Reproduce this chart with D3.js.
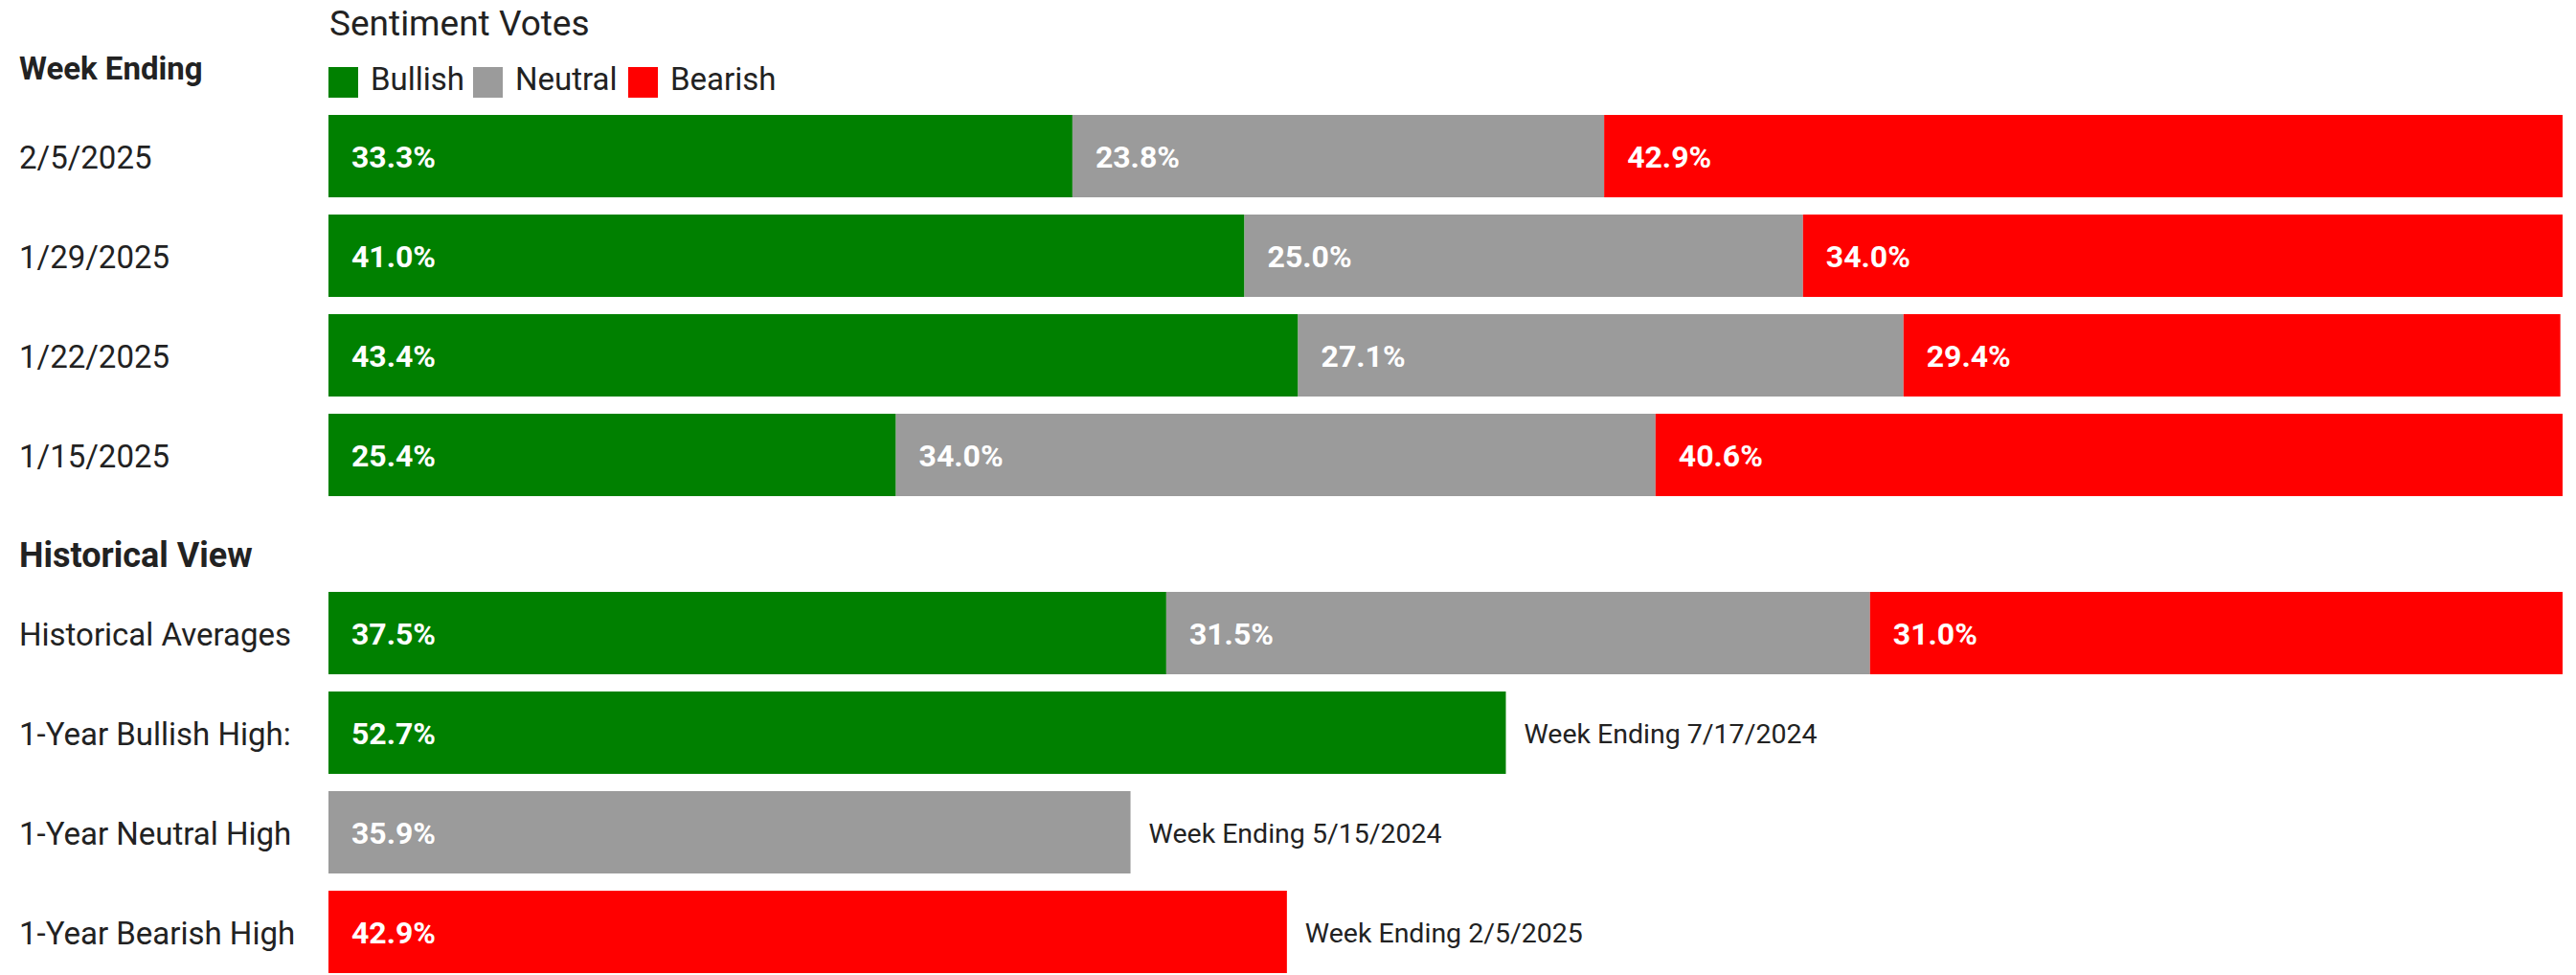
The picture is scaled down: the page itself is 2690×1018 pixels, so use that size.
<!DOCTYPE html>
<html>
<head>
<meta charset="utf-8">
<title>Sentiment Votes</title>
<script src="https://cdn.jsdelivr.net/npm/d3@7"></script>
<style>
  body { margin: 0; background: #fff; }
  svg text { font-family: Roboto, 'Liberation Sans', sans-serif; fill: #222; }
</style>
</head>
<body>
<svg id="chart" width="2690" height="1018"></svg>
<script>
// weekly sentiment, percent
var weeks    = ['2/5/2025', '1/29/2025', '1/22/2025', '1/15/2025'];
var bullish  = [33.3, 41.0, 43.4, 25.4];
var neutral  = [23.8, 25.0, 27.1, 34.0];
var bearish  = [42.9, 34.0, 29.4, 40.6];

var seriesNames  = ['Bullish', 'Neutral', 'Bearish'];
var seriesColors = ['#008000', '#9b9b9b', '#ff0000'];

// historical view
var histAvgLabel = 'Historical Averages';
var histAvg      = [37.5, 31.5, 31.0];
var highLabels   = ['1-Year Bullish High:', '1-Year Neutral High', '1-Year Bearish High'];
var highValues   = [52.7, 35.9, 42.9];
var highWeeks    = ['Week Ending 7/17/2024', 'Week Ending 5/15/2024', 'Week Ending 2/5/2025'];

var svg = d3.select('#chart');
var color = d3.scaleOrdinal().domain(seriesNames).range(seriesColors);
var x = d3.scaleLinear().domain([0, 100]).range([343, 2676]);

var yTop = d3.scaleBand().domain(weeks).range([120, 518]).paddingInner(0.173);
var histRows = [histAvgLabel].concat(highLabels);
var yHist = d3.scaleBand().domain(histRows).range([618, 1016]).paddingInner(0.173);

function fmt(v) { return v.toFixed(1) + '%'; }

// stack helper: [{key, x0, x1}]
function segments(vals) {
    var acc = 0;
    return vals.map(function(v, i) {
        var s = {key: seriesNames[i], v: v, x0: acc, x1: acc + v};
        acc += v;
        return s;
    });
}

// headings
svg.append('text').attr('x', 344).attr('y', 37)
    .style('font-size', '37px').text('Sentiment Votes');
svg.append('text').attr('x', 20).attr('y', 83)
    .style('font-size', '33px').style('font-weight', 'bold').text('Week Ending');
svg.append('text').attr('x', 20).attr('y', 592)
    .style('font-size', '36px').style('font-weight', 'bold').text('Historical View');

// legend
var legX = [343, 494, 656];
var leg = svg.selectAll('g.leg').data(seriesNames).enter().append('g')
    .attr('class', 'leg')
    .attr('transform', function(d, i) { return 'translate(' + legX[i] + ',70)'; });
leg.append('rect').attr('width', 31).attr('height', 32).attr('fill', function(d) { return color(d); });
leg.append('text').attr('x', 44).attr('y', 24).style('font-size', '33px').text(function(d) { return d; });

function drawStacked(g, y, label, vals) {
    var row = g.append('g');
    row.append('text').attr('x', 20).attr('y', y.bandwidth() / 2).attr('dy', '0.38em')
        .style('font-size', '33px').text(label);
    var seg = row.selectAll('g.seg').data(segments(vals)).enter().append('g').attr('class', 'seg');
    seg.append('rect')
        .attr('x', function(d) { return x(d.x0); })
        .attr('width', function(d) { return x(d.x1) - x(d.x0); })
        .attr('height', y.bandwidth())
        .attr('fill', function(d) { return color(d.key); });
    seg.append('text')
        .attr('x', function(d) { return x(d.x0) + 24; })
        .attr('y', y.bandwidth() / 2).attr('dy', '0.38em')
        .style('font-size', '32px').style('font-weight', 'bold').style('fill', '#fff')
        .text(function(d) { return fmt(d.v); });
    return row;
}

weeks.forEach(function(w, i) {
    var g = svg.append('g').attr('transform', 'translate(0,' + yTop(w) + ')');
    drawStacked(g, yTop, w, [bullish[i], neutral[i], bearish[i]]);
});

var gAvg = svg.append('g').attr('transform', 'translate(0,' + yHist(histAvgLabel) + ')');
drawStacked(gAvg, yHist, histAvgLabel, histAvg);

highLabels.forEach(function(lab, i) {
    var g = svg.append('g').attr('transform', 'translate(0,' + yHist(lab) + ')');
    var mid = yHist.bandwidth() / 2;
    g.append('text').attr('x', 20).attr('y', mid).attr('dy', '0.38em')
        .style('font-size', '33px').text(lab);
    g.append('rect').attr('x', x(0)).attr('width', x(highValues[i]) - x(0))
        .attr('height', yHist.bandwidth()).attr('fill', seriesColors[i]);
    g.append('text').attr('x', x(0) + 24).attr('y', mid).attr('dy', '0.38em')
        .style('font-size', '32px').style('font-weight', 'bold').style('fill', '#fff')
        .text(fmt(highValues[i]));
    g.append('text').attr('x', x(highValues[i]) + 19).attr('y', mid).attr('dy', '0.38em')
        .style('font-size', '28.5px').text(highWeeks[i]);
});
</script>
</body>
</html>
